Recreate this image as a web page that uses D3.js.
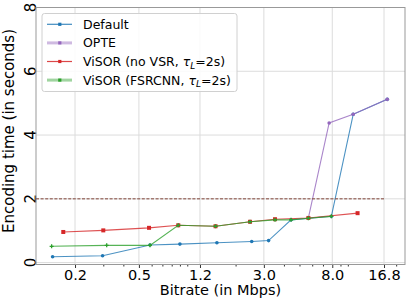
<!DOCTYPE html>
<html>
<head>
<meta charset="utf-8">
<script src="https://cdn.jsdelivr.net/npm/d3@7/dist/d3.min.js"></script>
<style>
  body { margin: 0; background: #fff; }
  text { font-family: "DejaVu Sans", sans-serif; fill: #000; }
</style>
</head>
<body>
<div id="chart"></div>
<script>
// bitrate ladder ticks and time ticks
const xTicks = [0.2, 0.5, 1.2, 3.0, 8.0, 16.8]
const yTicks = [0, 2, 4, 6, 8]

const defaultRate = [0.145, 0.297, 0.586, 0.9, 1.53, 2.52, 3.21, 4.43, 7.9, 10.8, 17.6]
const defaultTime = [0.185, 0.216, 0.55, 0.58, 0.62, 0.66, 0.69, 1.34, 1.45, 4.65, 5.12]

const opteRate = [5.68, 7.65, 10.8, 17.6]
const opteTime = [1.40, 4.38, 4.65, 5.12]

const noVsrRate = [0.169, 0.3, 0.578, 0.879, 1.5, 2.46, 3.52, 5.68, 11.5]
const noVsrTime = [0.96, 1.01, 1.09, 1.17, 1.14, 1.28, 1.36, 1.40, 1.55]

const fsrcnnRate = [0.143, 0.315, 0.586, 0.879, 1.5, 2.46, 3.52, 4.43, 5.68, 7.9]
const fsrcnnTime = [0.51, 0.54, 0.54, 1.17, 1.14, 1.28, 1.34, 1.34, 1.39, 1.45]

const latencyLimit = 2
const limitEnd = 16.8

const width = 407
const height = 301
const plotLeft = 36
const plotRight = 405
const plotTop = 7.5
const plotBottom = 264.5

const zip = (xs, ys) => xs.map((x, i) => ({ x: x, y: ys[i] }))

const series = [
  { name: 'Default', color: '#1f77b4', marker: 'dot', data: zip(defaultRate, defaultTime), legendWidth: 1.2 },
  { name: 'OPTE', color: '#9467bd', marker: 'dot', data: zip(opteRate, opteTime), legendWidth: 3 },
  { name: 'ViSOR (no VSR, ', color: '#d62728', marker: 'square', data: zip(noVsrRate, noVsrTime), legendWidth: 1.2, tau: true },
  { name: 'ViSOR (FSRCNN, ', color: '#2ca02c', marker: 'plus', data: zip(fsrcnnRate, fsrcnnTime), legendWidth: 3, tau: true }
]

const x = d3.scaleLog().domain([0.1143, 22.7]).range([plotLeft, plotRight])
const y = d3.scaleLinear().domain([-0.06, 8]).range([plotBottom, plotTop])

const svg = d3.select('#chart')
  .append('svg')
  .attr('width', width)
  .attr('height', height)

// grid
svg.append('g')
  .selectAll('line')
  .data(xTicks)
  .enter()
  .append('line')
  .attr('x1', d => x(d))
  .attr('x2', d => x(d))
  .attr('y1', plotTop)
  .attr('y2', plotBottom)
  .attr('stroke', '#dcdcdc')
  .attr('stroke-width', 1)

svg.append('g')
  .selectAll('line')
  .data(yTicks)
  .enter()
  .append('line')
  .attr('x1', plotLeft)
  .attr('x2', plotRight)
  .attr('y1', d => y(d))
  .attr('y2', d => y(d))
  .attr('stroke', '#dcdcdc')
  .attr('stroke-width', 1)

// x axis with minor ticks
const minor = []
for (let k = -1; k <= 1; k++) {
  for (let m = 1; m <= 9; m++) {
    const v = +(m * Math.pow(10, k)).toFixed(3)
    if (v > x.domain()[0] && v < x.domain()[1] && !xTicks.includes(v)) minor.push(v)
  }
}

const xAxis = svg.append('g')
  .attr('transform', `translate(0,${plotBottom})`)
  .call(d3.axisBottom(x).tickValues(xTicks).tickFormat(d3.format('.1f')).tickSize(3.5).tickPadding(0))
xAxis.select('.domain').remove()
xAxis.selectAll('line').attr('stroke', '#333')
xAxis.selectAll('text')
  .attr('font-size', 14.5)
  .attr('font-family', 'DejaVu Sans')
  .attr('dy', null)
  .attr('y', 279.5 - plotBottom)

svg.append('g')
  .attr('transform', `translate(0,${plotBottom})`)
  .call(d3.axisBottom(x).tickValues(minor).tickFormat('').tickSize(2))
  .call(g => g.select('.domain').remove())
  .selectAll('line').attr('stroke', '#333')

// y tick labels, rotated
svg.append('g')
  .selectAll('text')
  .data(yTicks)
  .enter()
  .append('text')
  .attr('transform', d => `translate(35.5,${y(d)}) rotate(-90)`)
  .attr('text-anchor', 'middle')
  .attr('font-size', 15)
  .text(d => d)

// spines
svg.append('rect')
  .attr('x', plotLeft)
  .attr('y', plotTop)
  .attr('width', plotRight - plotLeft)
  .attr('height', plotBottom - plotTop)
  .attr('fill', 'none')
  .attr('stroke', '#999')
  .attr('stroke-width', 1)

// data lines
const line = d3.line().x(d => x(d.x)).y(d => y(d.y))

const drawMarker = (g, s) => {
  if (s.marker === 'square') {
    g.selectAll('rect.mk')
      .data(s.data)
      .enter()
      .append('rect')
      .attr('class', 'mk')
      .attr('x', d => x(d.x) - 2)
      .attr('y', d => y(d.y) - 2)
      .attr('width', 4)
      .attr('height', 4)
      .attr('fill', s.color)
  } else if (s.marker === 'plus') {
    g.selectAll('path.mk')
      .data(s.data)
      .enter()
      .append('path')
      .attr('class', 'mk')
      .attr('d', d => `M${x(d.x) - 2},${y(d.y)}h4M${x(d.x)},${y(d.y) - 2}v4`)
      .attr('stroke', s.color)
      .attr('stroke-width', 1.3)
  } else {
    g.selectAll('circle.mk')
      .data(s.data)
      .enter()
      .append('circle')
      .attr('class', 'mk')
      .attr('cx', d => x(d.x))
      .attr('cy', d => y(d.y))
      .attr('r', 1.8)
      .attr('fill', s.color)
  }
}

series.forEach(s => {
  const g = svg.append('g')
  g.append('path')
    .datum(s.data)
    .attr('d', line)
    .attr('fill', 'none')
    .attr('stroke', s.color)
    .attr('stroke-opacity', 0.8)
    .attr('stroke-width', 1.1)
  drawMarker(g, s)
})

// latency limit
svg.append('line')
  .attr('x1', x(x.domain()[0]))
  .attr('x2', x(limitEnd))
  .attr('y1', y(latencyLimit))
  .attr('y2', y(latencyLimit))
  .attr('stroke', '#8c564b')
  .attr('stroke-opacity', 0.75)
  .attr('stroke-width', 1.5)
  .attr('stroke-dasharray', '3,1.6')

// axis labels
svg.append('text')
  .attr('x', (plotLeft + plotRight) / 2)
  .attr('y', 295)
  .attr('text-anchor', 'middle')
  .attr('font-size', 14.5)
  .text('Bitrate (in Mbps)')

svg.append('text')
  .attr('transform', `translate(14,131) rotate(-90)`)
  .attr('text-anchor', 'middle')
  .attr('font-size', 15)
  .text('Encoding time (in seconds)')

// legend
const legend = svg.append('g')
legend.append('rect')
  .attr('x', 42)
  .attr('y', 13.5)
  .attr('width', 195)
  .attr('height', 78)
  .attr('rx', 2.5)
  .attr('fill', 'white')
  .attr('fill-opacity', 0.85)
  .attr('stroke', '#d0d0d0')

const rows = legend.selectAll('g.row')
  .data(series)
  .enter()
  .append('g')
  .attr('class', 'row')
  .attr('transform', (d, i) => `translate(0,${24.3 + i * 18.6})`)

rows.append('line')
  .attr('x1', 47)
  .attr('x2', 72)
  .attr('stroke', d => d.color)
  .attr('stroke-opacity', d => d.legendWidth > 2 ? 0.45 : 0.85)
  .attr('stroke-width', d => d.legendWidth)

rows.append('rect')
  .attr('x', 58.2)
  .attr('y', -1.6)
  .attr('width', 3.2)
  .attr('height', 3.2)
  .attr('fill', d => d.color)

const labels = rows.append('text')
  .attr('x', 83)
  .attr('y', 4.5)
  .attr('font-size', 12.5)

labels.append('tspan').text(d => d.name)
labels.filter(d => d.tau).each(function () {
  const t = d3.select(this)
  t.append('tspan').attr('font-style', 'italic').text('τ')
  t.append('tspan').attr('font-style', 'italic').attr('font-size', 9).attr('dy', 2.5).text('L')
  t.append('tspan').attr('dy', -2.5).text('=2s)')
})
</script>
</body>
</html>
